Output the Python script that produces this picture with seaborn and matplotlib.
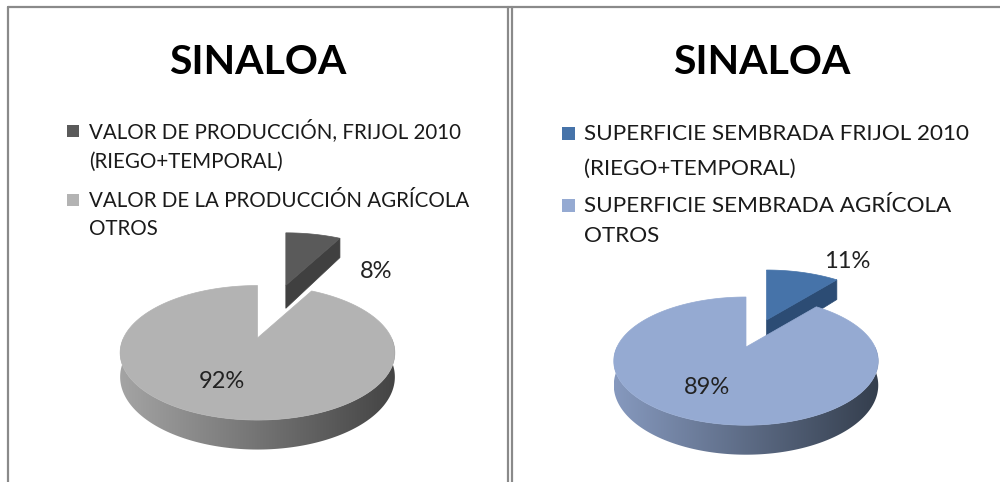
import numpy as np
import matplotlib.pyplot as plt
import seaborn as sns
from matplotlib.patches import Polygon, Rectangle
from matplotlib.colors import to_rgb

sns.set_theme(style="white")
plt.rcParams['font.family'] = ['Lato', 'DejaVu Sans']

# data
titles = ["SINALOA", "SINALOA"]
left_labels = ["VALOR DE PRODUCCIÓN, FRIJOL 2010\n(RIEGO+TEMPORAL)",
               "VALOR DE LA PRODUCCIÓN AGRÍCOLA\nOTROS"]
left_values = [8, 92]
right_labels = ["SUPERFICIE SEMBRADA FRIJOL 2010\n(RIEGO+TEMPORAL)",
                "SUPERFICIE SEMBRADA AGRÍCOLA\nOTROS"]
right_values = [11, 89]

# colours (top face, radial face, side light, side dark)
left_tops = ["#5a5a5a", "#b3b3b3"]
left_faces = ["#404040", "#808080"]
left_sides = [("#6a6a6a", "#3a3a3a"), ("#a4a4a4", "#444444")]
right_tops = ["#4673a9", "#95aad2"]
right_faces = ["#2c4c74", "#6a7ea5"]
right_sides = [("#3d6190", "#26384f"), ("#8699be", "#343e4d")]


def proj(t, r, d, g, off):
    X = r * np.cos(np.radians(t))
    Y = r * np.sin(np.radians(t))
    w = 1 + g['p'] * Y
    return (g['cx'] + g['a'] * X / w + off[0],
            g['cy'] + (-g['b'] * Y + g['h'] * d) / w + off[1])


def draw_pie(ax, values, g, tops, faces, sides):
    vals = np.asarray(values, float)
    fr = vals / vals.sum()
    ends = 90 - 360 * np.cumsum(fr)
    starts = np.r_[90, ends[:-1]]
    order = np.argsort(-np.asarray(g['explode']))
    for i in order:
        s, e = starts[i], ends[i]
        mid = np.radians((s + e) / 2)
        ex = g['explode'][i]
        off = (ex * g['a'] * np.cos(mid), -ex * g['b'] * np.sin(mid))
        # front curved side, shaded left to right
        lo, hi = max(e, -180), min(s, 0)
        if hi > lo:
            ts = np.linspace(lo, hi, 200)
            pts = [proj(t, 1, 0, g, off) for t in ts] + \
                  [proj(t, 1, 1, g, off) for t in ts[::-1]]
            side = Polygon(pts, closed=True, fc='none', ec='none')
            ax.add_patch(side)
            xs = [p[0] for p in pts]
            ys = [p[1] for p in pts]
            c0, c1 = np.array(to_rgb(sides[i][0])), np.array(to_rgb(sides[i][1]))
            f = np.linspace(0, 1, 256)[:, None]
            grad = (c0 * (1 - f) + c1 * f)[None, :, :]
            im = ax.imshow(grad, extent=(min(xs), max(xs), max(ys) + 1, min(ys) - 1),
                           aspect='auto', interpolation='bilinear', zorder=1)
            im.set_clip_path(side)
        # radial faces
        for ang, nrm in ((e, e - 90), (s, s + 90)):
            if np.sin(np.radians(nrm)) < -0.05:
                pts = [proj(ang, 0, 0, g, off), proj(ang, 1, 0, g, off),
                       proj(ang, 1, 1, g, off), proj(ang, 0, 1, g, off)]
                ax.add_patch(Polygon(pts, closed=True, fc=faces[i], ec=faces[i],
                                     lw=0.5, zorder=1))
        # top face
        ts = np.linspace(s, e, 200)
        pts = [proj(0, 0, 0, g, off)] + [proj(t, 1, 0, g, off) for t in ts]
        ax.add_patch(Polygon(pts, closed=True, fc=tops[i], ec=tops[i], lw=0.5, zorder=1))


fig = plt.figure(figsize=(10, 4.82), dpi=100)
ax = fig.add_axes([0, 0, 1, 1])

# chart borders
bc = "#8a8a8a"
ax.plot([8, 1000], [7, 7], color=bc, lw=1.6)
ax.plot([8, 8], [7, 482], color=bc, lw=1.6)
ax.plot([508, 508], [7, 482], color=bc, lw=1.6)
ax.plot([512, 512], [7, 482], color=bc, lw=1.6)

panels = [
    dict(title=titles[0], tx=258, labels=left_labels, values=left_values,
         tops=left_tops, faces=left_faces, sides=left_sides,
         g=dict(cx=257.5, cy=338, a=134, b=64, h=23, p=0.22, explode=[0.85, 0]),
         sq=(67, 125, 12), lx=89, base=[138, 168, 207, 235], fs=14.8,
         pct=[(376, 271), (222, 381)]),
    dict(title=titles[1], tx=762, labels=right_labels, values=right_values,
         tops=right_tops, faces=right_faces, sides=right_sides,
         g=dict(cx=746, cy=347, a=129, b=61, h=23, p=0.22, explode=[0.47, 0]),
         sq=(562, 127, 13), lx=584, base=[140, 175, 212, 242], fs=16.2,
         pct=[(847, 262), (707, 388)]),
]

for pn in panels:
    ax.text(pn['tx'], 74, pn['title'], ha='center', va='baseline',
            fontsize=29.5, fontweight='bold', color='black')
    sx, sy, ss = pn['sq']
    for k, lab in enumerate(pn['labels']):
        lines = lab.split("\n")
        ax.add_patch(Rectangle((sx, pn['base'][2 * k] - 13), ss, ss,
                               fc=pn['tops'][k], ec='none'))
        for j, ln in enumerate(lines):
            ax.text(pn['lx'], pn['base'][2 * k + j], ln, ha='left', va='baseline',
                    fontsize=pn['fs'], color='#1a1a1a')
    draw_pie(ax, pn['values'], pn['g'], pn['tops'], pn['faces'], pn['sides'])
    for v, (px, py) in zip(pn['values'], pn['pct']):
        ax.text(px, py, f"{v}%", ha='center', va='center', fontsize=17,
                color='#222222', zorder=3)

ax.set_xlim(0, 1000)
ax.set_ylim(482, 0)
ax.axis('off')

fig.savefig("out.png", dpi=100)
